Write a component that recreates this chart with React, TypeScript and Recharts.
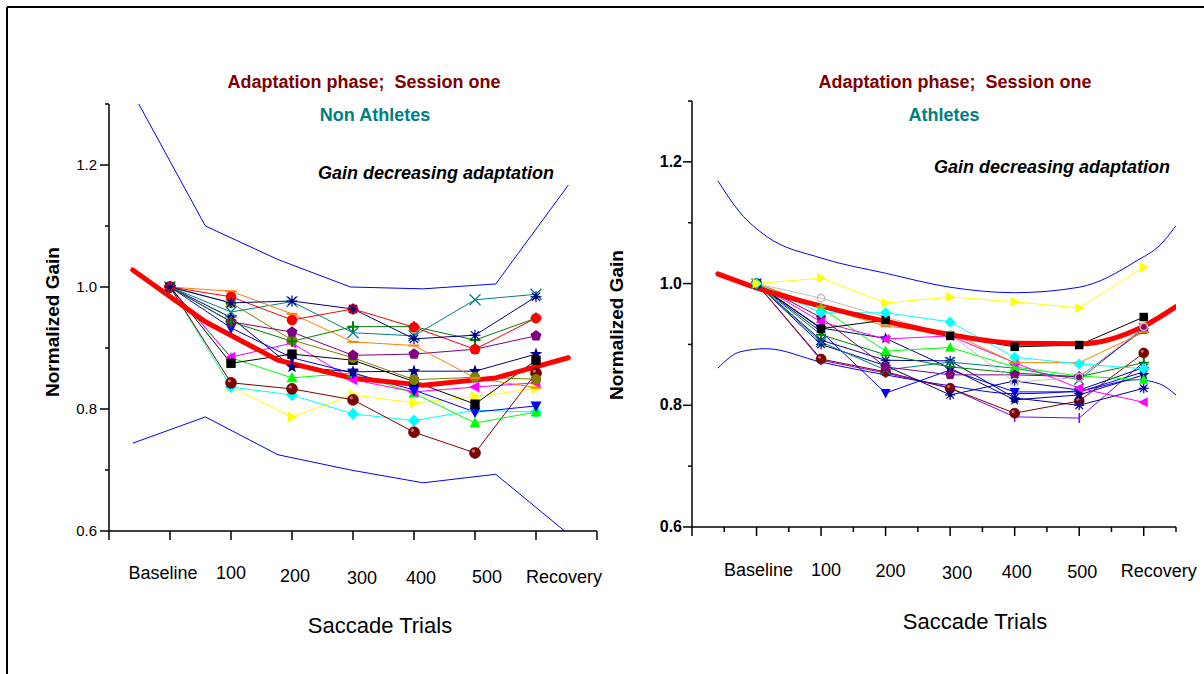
import React from "react";
import { LineChart, Line, XAxis, YAxis } from "recharts";

const categories = ["Baseline", "100", "200", "300", "400", "500", "Recovery"];
const trialPos = [1, 2, 3, 4, 5, 6, 7];
const gainTicks = [0.6, 0.7, 0.8, 0.9, 1.0, 1.1, 1.2, 1.3];
const naTrialTicks = [0, 1, 2, 3, 4, 5, 6, 7, 8];
const atTrialTicks = [0, 0.5, 1, 1.5, 2, 2.5, 3, 3.5, 4, 4.5, 5, 5.5, 6, 6.5, 7, 7.5];

// Non athletes, one array per subject
const naRed = [1.0, 0.984, 0.946, 0.964, 0.934, 0.898, 0.949];
const naOrange = [1.0, 0.993, 0.956, 0.91, 0.904, 0.851, 0.835];
const naNavyAst = [1.0, 0.974, 0.977, 0.964, 0.915, 0.921, 0.984];
const naTealX = [1.0, 0.959, 0.976, 0.925, 0.92, 0.979, 0.988];
const naGreenPlus = [1.0, 0.943, 0.911, 0.935, 0.935, 0.913, 0.949];
const naPurple = [1.0, 0.943, 0.926, 0.888, 0.89, 0.898, 0.92];
const naOlive = [1.0, 0.974, 0.913, 0.884, 0.848, 0.852, 0.849];
const naBlack = [1.0, 0.875, 0.89, 0.88, 0.845, 0.808, 0.88];
const naNavyStar = [1.0, 0.95, 0.869, 0.861, 0.862, 0.862, 0.89];
const naBlueDown = [1.0, 0.933, 0.884, 0.859, 0.831, 0.795, 0.805];
const naMagenta = [1.0, 0.885, 0.908, 0.848, 0.828, 0.836, 0.843];
const naLime = [1.0, 0.884, 0.851, 0.859, 0.826, 0.777, 0.795];
const naMaroon = [1.0, 0.843, 0.833, 0.815, 0.762, 0.728, 0.859];
const naCyan = [1.0, 0.836, 0.823, 0.792, 0.781, 0.798, 0.795];
const naYellow = [1.0, 0.836, 0.787, 0.823, 0.81, 0.82, 0.834];

// Non athletes fit and bands
const naFitX = [0.39, 1.58, 2.77, 3.96, 5.15, 6.34, 7.53];
const naFitGain = [1.028, 0.943, 0.88, 0.851, 0.839, 0.851, 0.884];
const naUpperGain = [1.318, 1.1, 1.045, 1.0, 0.997, 1.005, 1.167];
const naLowerGain = [0.744, 0.787, 0.725, 0.7, 0.679, 0.693, 0.595];

// Athletes, one array per subject
const atYellow = [1.0, 1.009, 0.968, 0.978, 0.97, 0.96, 1.027];
const atGray = [1.0, 0.976, 0.945, 0.916, 0.838, 0.846, 0.929];
const atCyan = [1.0, 0.952, 0.952, 0.937, 0.879, 0.868, 0.86];
const atBlack = [1.0, 0.926, 0.94, 0.914, 0.896, 0.899, 0.945];
const atOrange = [1.0, 0.962, 0.93, 0.919, 0.87, 0.87, 0.92];
const atMagenta = [1.0, 0.937, 0.909, 0.914, 0.87, 0.828, 0.805];
const atPurple = [1.0, 0.944, 0.863, 0.85, 0.85, 0.847, 0.924];
const atLime = [1.0, 0.96, 0.889, 0.895, 0.863, 0.848, 0.842];
const atNavyAst = [1.0, 0.907, 0.874, 0.873, 0.812, 0.8, 0.828];
const atNavyAst2 = [1.0, 0.9, 0.865, 0.817, 0.84, 0.825, 0.862];
const atBlueStar = [1.0, 0.927, 0.91, 0.861, 0.809, 0.817, 0.85];
const atBlueDown = [1.0, 0.921, 0.82, 0.858, 0.822, 0.822, 0.855];
const atMaroon = [1.0, 0.876, 0.855, 0.828, 0.787, 0.807, 0.886];
const atViolet = [1.0, 0.874, 0.853, 0.828, 0.781, 0.779, 0.871];
const atTealX = [1.0, 0.904, 0.858, 0.871, 0.861, 0.842, 0.927];
const atGreen = [1.0, 0.916, 0.883, 0.863, 0.853, 0.847, 0.87];

// Athletes fit and bands
const atFitX = [0.4, 1, 2, 3, 4, 5, 6, 7, 7.5];
const atFitGain = [1.016, 0.993, 0.963, 0.938, 0.916, 0.902, 0.901, 0.93, 0.962];
const atBandX = [0.4, 0.75, 1.15, 2, 3, 4, 5, 6, 6.9, 7.25, 7.5];
const atUpperGain = [1.169, 1.116, 1.078, 1.042, 1.017, 0.994, 0.985, 0.994, 1.038, 1.063, 1.095];
const atLowerGain = [0.861, 0.888, 0.893, 0.871, 0.85, 0.832, 0.819, 0.824, 0.842, 0.835, 0.817];

const FONT = "'Liberation Sans', Arial, Helvetica, sans-serif";

type Shape =
  | "circle" | "ball" | "square" | "up" | "down" | "left" | "right" | "diamond"
  | "pentagon" | "star" | "asterisk" | "cross" | "plus" | "dash" | "bar" | "ring";

type Subject = { name: string; values: number[]; color: string; shape: Shape };

const naSubjects: Subject[] = [
  { name: "naYellow", values: naYellow, color: "#ffff00", shape: "right" },
  { name: "naCyan", values: naCyan, color: "#00ffff", shape: "diamond" },
  { name: "naMaroon", values: naMaroon, color: "#800000", shape: "ball" },
  { name: "naLime", values: naLime, color: "#00ff00", shape: "up" },
  { name: "naMagenta", values: naMagenta, color: "#ff00ff", shape: "left" },
  { name: "naBlueDown", values: naBlueDown, color: "#0000ff", shape: "down" },
  { name: "naNavyStar", values: naNavyStar, color: "#000080", shape: "star" },
  { name: "naBlack", values: naBlack, color: "#000000", shape: "square" },
  { name: "naOlive", values: naOlive, color: "#808000", shape: "circle" },
  { name: "naPurple", values: naPurple, color: "#800080", shape: "pentagon" },
  { name: "naGreenPlus", values: naGreenPlus, color: "#008000", shape: "plus" },
  { name: "naTealX", values: naTealX, color: "#008080", shape: "cross" },
  { name: "naOrange", values: naOrange, color: "#ff8000", shape: "dash" },
  { name: "naRed", values: naRed, color: "#ff0000", shape: "circle" },
  { name: "naNavyAst", values: naNavyAst, color: "#000080", shape: "asterisk" },
];

const atSubjects: Subject[] = [
  { name: "atViolet", values: atViolet, color: "#8000ff", shape: "bar" },
  { name: "atMaroon", values: atMaroon, color: "#800000", shape: "ball" },
  { name: "atBlueDown", values: atBlueDown, color: "#0000ff", shape: "down" },
  { name: "atBlueStar", values: atBlueStar, color: "#000080", shape: "star" },
  { name: "atNavyAst2", values: atNavyAst2, color: "#000080", shape: "asterisk" },
  { name: "atNavyAst", values: atNavyAst, color: "#0000a0", shape: "asterisk" },
  { name: "atGreen", values: atGreen, color: "#008000", shape: "plus" },
  { name: "atTealX", values: atTealX, color: "#008080", shape: "cross" },
  { name: "atLime", values: atLime, color: "#00ff00", shape: "up" },
  { name: "atPurple", values: atPurple, color: "#800080", shape: "pentagon" },
  { name: "atMagenta", values: atMagenta, color: "#ff00ff", shape: "left" },
  { name: "atOrange", values: atOrange, color: "#ff8000", shape: "dash" },
  { name: "atGray", values: atGray, color: "#c0c0c0", shape: "ring" },
  { name: "atBlack", values: atBlack, color: "#000000", shape: "square" },
  { name: "atCyan", values: atCyan, color: "#00ffff", shape: "diamond" },
  { name: "atYellow", values: atYellow, color: "#ffff00", shape: "right" },
];

const toRows = (xs: number[], ys: number[]) => xs.map((x, i) => ({ x, y: ys[i] }));

const poly = (cx: number, cy: number, pts: number[][]) =>
  pts.map(([dx, dy]) => `${cx + dx},${cy + dy}`).join(" ");

function Marker({ cx, cy, shape, color, s }: { cx?: number; cy?: number; shape: Shape; color: string; s: number }) {
  if (cx == null || cy == null || isNaN(cx) || isNaN(cy)) return null;
  const r = s / 2;
  switch (shape) {
    case "circle":
      return <circle cx={cx} cy={cy} r={r * 0.95} fill={color} />;
    case "ball":
      return (
        <g>
          <circle cx={cx} cy={cy} r={r} fill={color} stroke="#500000" strokeWidth={0.6} />
          <circle cx={cx - r * 0.3} cy={cy - r * 0.35} r={r * 0.3} fill="#c07070" />
        </g>
      );
    case "ring":
      return <circle cx={cx} cy={cy} r={r * 0.75} fill="none" stroke={color} strokeWidth={1.5} />;
    case "square":
      return <rect x={cx - r * 0.85} y={cy - r * 0.85} width={r * 1.7} height={r * 1.7} fill={color} />;
    case "up":
      return <polygon points={poly(cx, cy, [[0, -r * 1.1], [r, r * 0.8], [-r, r * 0.8]])} fill={color} />;
    case "down":
      return <polygon points={poly(cx, cy, [[0, r * 1.1], [r, -r * 0.8], [-r, -r * 0.8]])} fill={color} />;
    case "left":
      return <polygon points={poly(cx, cy, [[-r * 1.1, 0], [r * 0.8, -r], [r * 0.8, r]])} fill={color} />;
    case "right":
      return <polygon points={poly(cx, cy, [[r * 1.1, 0], [-r * 0.8, -r], [-r * 0.8, r]])} fill={color} />;
    case "diamond":
      return <polygon points={poly(cx, cy, [[0, -r * 1.1], [r * 1.1, 0], [0, r * 1.1], [-r * 1.1, 0]])} fill={color} />;
    case "pentagon": {
      const pts = [0, 1, 2, 3, 4].map((k) => {
        const a = ((-90 + 72 * k) * Math.PI) / 180;
        return [Math.cos(a) * r * 1.05, Math.sin(a) * r * 1.05];
      });
      return <polygon points={poly(cx, cy, pts)} fill={color} />;
    }
    case "star": {
      const pts = Array.from({ length: 10 }, (_, k) => {
        const a = ((-90 + 36 * k) * Math.PI) / 180;
        const rr = k % 2 === 0 ? r * 1.2 : r * 0.5;
        return [Math.cos(a) * rr, Math.sin(a) * rr];
      });
      return <polygon points={poly(cx, cy, pts)} fill={color} />;
    }
    case "asterisk":
      return (
        <g stroke={color} strokeWidth={1.2}>
          <line x1={cx - r} y1={cy} x2={cx + r} y2={cy} />
          <line x1={cx} y1={cy - r} x2={cx} y2={cy + r} />
          <line x1={cx - r * 0.75} y1={cy - r * 0.75} x2={cx + r * 0.75} y2={cy + r * 0.75} />
          <line x1={cx - r * 0.75} y1={cy + r * 0.75} x2={cx + r * 0.75} y2={cy - r * 0.75} />
          <circle cx={cx} cy={cy} r={r * 0.3} fill={color} />
        </g>
      );
    case "cross":
      return (
        <g stroke={color} strokeWidth={1.3}>
          <line x1={cx - r} y1={cy - r} x2={cx + r} y2={cy + r} />
          <line x1={cx - r} y1={cy + r} x2={cx + r} y2={cy - r} />
        </g>
      );
    case "plus":
      return (
        <g stroke={color} strokeWidth={2}>
          <line x1={cx - r} y1={cy} x2={cx + r} y2={cy} />
          <line x1={cx} y1={cy - r} x2={cx} y2={cy + r} />
        </g>
      );
    case "dash":
      return <line x1={cx - r} y1={cy} x2={cx + r} y2={cy} stroke={color} strokeWidth={2} />;
    case "bar":
      return <line x1={cx} y1={cy - r} x2={cx} y2={cy + r} stroke={color} strokeWidth={1.5} />;
    default:
      return null;
  }
}

type PanelProps = {
  left: number;
  width: number;
  axisWidth: number;
  top: number;
  bottom: number;
  rightPad: number;
  xMax: number;
  xTicks: number[];
  subjects: Subject[];
  fitX: number[];
  fit: number[];
  bandX: number[];
  upper: number[];
  lower: number[];
  curve: "linear" | "monotone";
  boldTicks: boolean;
  labelNudge: number[][];
  markerSize: number;
};

function Panel(p: PanelProps) {
  const height = 674;
  const xAxisHeight = 60;

  const renderXTick = (t: any) => {
    const v = t.payload.value;
    const major = Number.isInteger(v);
    const idx = trialPos.indexOf(v);
    return (
      <g>
        <line x1={t.x} x2={t.x} y1={t.y} y2={t.y + (major ? 9 : 5)} stroke="#000" strokeWidth={1.5} />
        {idx >= 0 && (
          <text
            x={t.x + p.labelNudge[idx][0]}
            y={t.y + p.labelNudge[idx][1]}
            textAnchor="middle"
            fontSize={18}
            fontFamily={FONT}
            fill="#000"
          >
            {categories[idx]}
          </text>
        )}
      </g>
    );
  };

  const renderYTick = (t: any) => {
    const v = t.payload.value;
    const major = Math.round(v * 10) % 2 === 0;
    return (
      <g>
        <line x1={t.x - (major ? 9 : 4)} x2={t.x} y1={t.y} y2={t.y} stroke="#000" strokeWidth={1.5} />
        {major && (
          <text
            x={t.x - (p.boldTicks ? 10 : 12)}
            y={t.y + 5}
            textAnchor="end"
            fontSize={p.boldTicks ? 16 : 15}
            fontWeight={p.boldTicks ? "bold" : "normal"}
            fontFamily={FONT}
            fill="#000"
          >
            {v.toFixed(1)}
          </text>
        )}
      </g>
    );
  };

  return (
    <div style={{ position: "absolute", left: p.left, top: 0, width: p.width, height }}>
      <LineChart
        width={p.width}
        height={height}
        margin={{ top: p.top, right: p.rightPad, bottom: height - p.bottom - xAxisHeight, left: 0 }}
      >
        <XAxis
          type="number"
          dataKey="x"
          domain={[0, p.xMax]}
          ticks={p.xTicks}
          interval={0}
          allowDataOverflow
          height={xAxisHeight}
          tickSize={0}
          tickMargin={0}
          tickLine={false}
          axisLine={{ stroke: "#000", strokeWidth: 1.5 }}
          tick={renderXTick}
        />
        <YAxis
          type="number"
          dataKey="y"
          domain={[0.6, 1.3]}
          ticks={gainTicks}
          interval={0}
          allowDataOverflow
          width={p.axisWidth}
          tickSize={0}
          tickMargin={0}
          tickLine={false}
          axisLine={{ stroke: "#000", strokeWidth: 1.5 }}
          tick={renderYTick}
        />
        <Line
          data={toRows(p.bandX, p.upper)}
          dataKey="y"
          type={p.curve}
          stroke="#0000ff"
          strokeWidth={1}
          dot={false}
          isAnimationActive={false}
        />
        <Line
          data={toRows(p.bandX, p.lower)}
          dataKey="y"
          type={p.curve}
          stroke="#0000ff"
          strokeWidth={1}
          dot={false}
          isAnimationActive={false}
        />
        {p.subjects.map((s) => (
          <Line
            key={s.name}
            data={toRows(trialPos, s.values)}
            dataKey="y"
            type="linear"
            stroke={s.color}
            strokeWidth={1}
            isAnimationActive={false}
            dot={(d: any) => (
              <Marker
                key={`${s.name}-${d.index}`}
                cx={d.cx}
                cy={d.cy}
                shape={s.shape}
                color={s.color}
                s={p.markerSize}
              />
            )}
          />
        ))}
        <Line
          data={toRows(p.fitX, p.fit)}
          dataKey="y"
          type={p.curve}
          stroke="#ff0000"
          strokeWidth={5}
          strokeLinecap="round"
          dot={false}
          isAnimationActive={false}
        />
      </LineChart>
    </div>
  );
}

export default function App() {
  return (
    <div
      style={{
        position: "absolute",
        left: 0,
        top: 0,
        width: 1204,
        height: 674,
        background: "#fff",
        overflow: "hidden",
        fontFamily: FONT,
      }}
    >
      <Panel
        left={0}
        width={625}
        axisWidth={109}
        top={104}
        bottom={531}
        rightPad={28}
        xMax={8}
        xTicks={naTrialTicks}
        subjects={naSubjects}
        fitX={naFitX}
        fit={naFitGain}
        bandX={naFitX}
        upper={naUpperGain}
        lower={naLowerGain}
        curve="linear"
        boldTicks={false}
        labelNudge={[[-7, 48], [0, 48], [3, 51], [9, 53], [7, 53], [12, 52], [28, 52]]}
        markerSize={11}
      />
      <Panel
        left={600}
        width={604}
        axisWidth={92}
        top={101}
        bottom={527}
        rightPad={28}
        xMax={7.5}
        xTicks={atTrialTicks}
        subjects={atSubjects}
        fitX={atFitX}
        fit={atFitGain}
        bandX={atBandX}
        upper={atUpperGain}
        lower={atLowerGain}
        curve="monotone"
        boldTicks={true}
        labelNudge={[[2, 49], [5, 49], [5, 50], [7, 52], [2, 51], [3, 51], [15, 50]]}
        markerSize={10}
      />
      <svg
        width={1204}
        height={674}
        style={{ position: "absolute", left: 0, top: 0, pointerEvents: "none" }}
        fontFamily={FONT}
      >
        <line x1={7} y1={7} x2={1204} y2={7} stroke="#000" strokeWidth={2} />
        <line x1={7} y1={7} x2={7} y2={674} stroke="#000" strokeWidth={2} />

        <text x={364} y={88} textAnchor="middle" fontSize={18} fontWeight="bold" fill="#800000" style={{ whiteSpace: "pre" }}>
          {"Adaptation phase;  Session one"}
        </text>
        <text x={375} y={121} textAnchor="middle" fontSize={18} fontWeight="bold" fill="#008080">
          Non Athletes
        </text>
        <text x={436} y={179} textAnchor="middle" fontSize={18} fontWeight="bold" fontStyle="italic" fill="#000">
          Gain decreasing adaptation
        </text>
        <text x={380} y={633} textAnchor="middle" fontSize={22} fill="#000">
          Saccade Trials
        </text>
        <text transform="translate(59,322) rotate(-90)" textAnchor="middle" fontSize={19} fontWeight="bold" fill="#000">
          Normalized Gain
        </text>

        <text x={955} y={88} textAnchor="middle" fontSize={18} fontWeight="bold" fill="#800000" style={{ whiteSpace: "pre" }}>
          {"Adaptation phase;  Session one"}
        </text>
        <text x={944} y={121} textAnchor="middle" fontSize={18} fontWeight="bold" fill="#008080">
          Athletes
        </text>
        <text x={1052} y={173} textAnchor="middle" fontSize={18} fontWeight="bold" fontStyle="italic" fill="#000">
          Gain decreasing adaptation
        </text>
        <text x={975} y={629} textAnchor="middle" fontSize={22} fill="#000">
          Saccade Trials
        </text>
        <text transform="translate(623,325) rotate(-90)" textAnchor="middle" fontSize={19} fontWeight="bold" fill="#000">
          Normalized Gain
        </text>
      </svg>
    </div>
  );
}
